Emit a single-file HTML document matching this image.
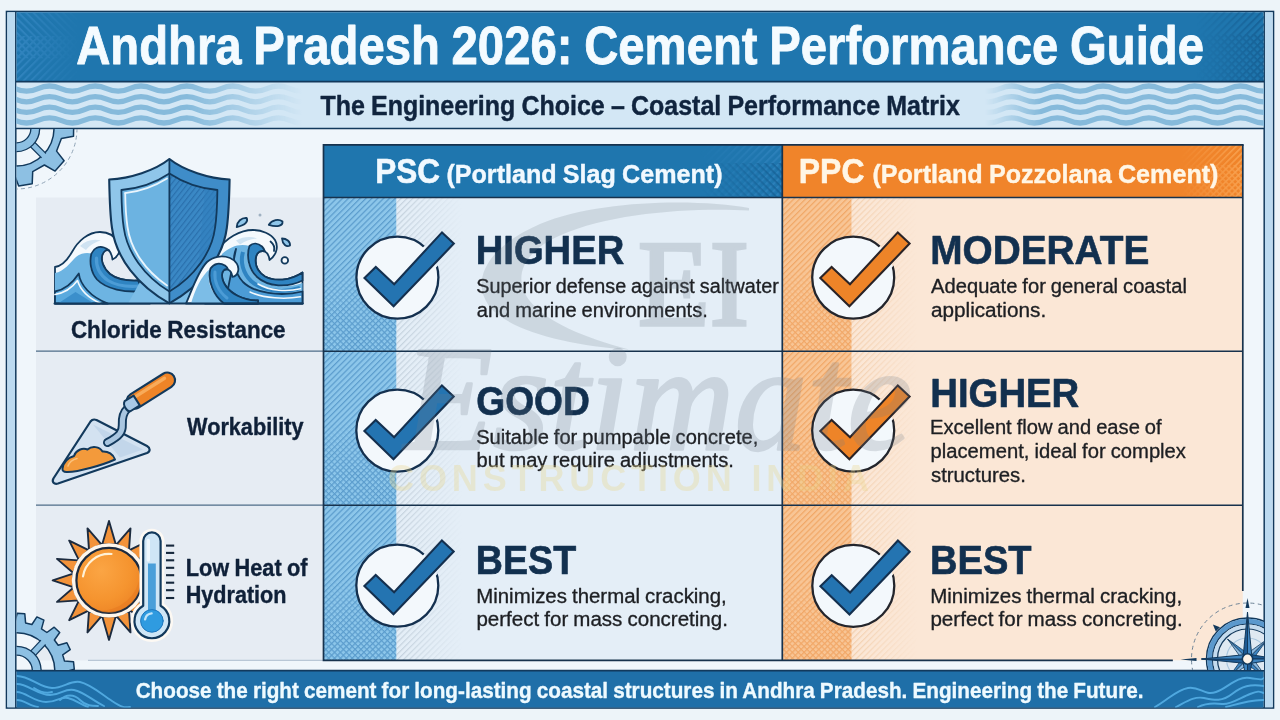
<!DOCTYPE html>
<html lang="en"><head><meta charset="utf-8">
<title>Andhra Pradesh 2026: Cement Performance Guide</title>
<style>html,body{margin:0;padding:0;background:#edf4f9;overflow:hidden}svg{display:block}text{font-family:"Liberation Sans",sans-serif}.b{font-weight:bold}.wm{font-family:"Liberation Serif",serif}</style></head><body>
<svg width="1280" height="720" viewBox="0 0 1280 720">
<defs>
<pattern id="pB" width="4.15" height="4.15" patternUnits="userSpaceOnUse" patternTransform="rotate(-45)"><rect width="4.15" height="1.25" fill="#5c9dcd"/></pattern>
<pattern id="pBx" width="4.15" height="4.15" patternUnits="userSpaceOnUse" patternTransform="rotate(45)"><rect width="4.15" height="1.15" fill="#5c9dcd"/></pattern>
<pattern id="pO" width="4.15" height="4.15" patternUnits="userSpaceOnUse" patternTransform="rotate(-45)"><rect width="4.15" height="1.25" fill="#f1a868"/></pattern>
<pattern id="pOx" width="4.15" height="4.15" patternUnits="userSpaceOnUse" patternTransform="rotate(45)"><rect width="4.15" height="1.15" fill="#f1a868"/></pattern>
<pattern id="pG" width="4.15" height="4.15" patternUnits="userSpaceOnUse" patternTransform="rotate(-45)"><rect width="4.15" height="1.2" fill="#c3d0dc"/></pattern>
<pattern id="pGo" width="4.15" height="4.15" patternUnits="userSpaceOnUse" patternTransform="rotate(-45)"><rect width="4.15" height="1.2" fill="#f3cfae"/></pattern>
<pattern id="pT" width="5.2" height="5.2" patternUnits="userSpaceOnUse" patternTransform="rotate(-45)"><rect width="5.2" height="2" fill="#3a8bc6"/></pattern>
<pattern id="pTx" width="5.2" height="5.2" patternUnits="userSpaceOnUse" patternTransform="rotate(45)"><rect width="5.2" height="2" fill="#3a8bc6"/></pattern>
<pattern id="pTo" width="4.4" height="4.4" patternUnits="userSpaceOnUse" patternTransform="rotate(-45)"><rect width="4.4" height="1.6" fill="#fbab5c"/></pattern>
<pattern id="pTox" width="4.4" height="4.4" patternUnits="userSpaceOnUse" patternTransform="rotate(45)"><rect width="4.4" height="1.6" fill="#fbab5c"/></pattern>
<pattern id="pTd" width="5.2" height="5.2" patternUnits="userSpaceOnUse" patternTransform="rotate(-45)"><rect width="5.2" height="2" fill="#155d91"/></pattern>
<pattern id="pTdx" width="5.2" height="5.2" patternUnits="userSpaceOnUse" patternTransform="rotate(45)"><rect width="5.2" height="2" fill="#155d91"/></pattern>
<linearGradient id="gR" x1="0" x2="1" y1="0" y2="0"><stop offset="0" stop-color="#fff"/><stop offset="1" stop-color="#000"/></linearGradient>
<linearGradient id="gL" x1="0" x2="1" y1="0" y2="0"><stop offset="0" stop-color="#000"/><stop offset="1" stop-color="#fff"/></linearGradient>
<linearGradient id="gWl" x1="0" x2="1" y1="0" y2="0"><stop offset="0" stop-color="#fff"/><stop offset="0.58" stop-color="#fff"/><stop offset="0.97" stop-color="#000"/></linearGradient>
<linearGradient id="gWr" x1="0" x2="1" y1="0" y2="0"><stop offset="0" stop-color="#000"/><stop offset="0.2" stop-color="#fff"/><stop offset="1" stop-color="#fff"/></linearGradient>
<mask id="mWl" maskUnits="userSpaceOnUse" x="16" y="82" width="300" height="46"><rect x="16" y="82" width="295" height="46" fill="url(#gWl)"/></mask>
<mask id="mWr" maskUnits="userSpaceOnUse" x="980" y="82" width="290" height="46"><rect x="985" y="82" width="279" height="46" fill="url(#gWr)"/></mask>
<mask id="mFB" maskUnits="userSpaceOnUse" x="396" y="197" width="70" height="464"><rect x="396" y="197" width="66" height="464" fill="url(#gR)"/></mask>
<mask id="mFO" maskUnits="userSpaceOnUse" x="851" y="197" width="70" height="464"><rect x="851" y="197" width="66" height="464" fill="url(#gR)"/></mask>
<linearGradient id="gV" x1="0" x2="0" y1="0" y2="1"><stop offset="0" stop-color="#000"/><stop offset="0.45" stop-color="#000"/><stop offset="0.8" stop-color="#fff"/><stop offset="1" stop-color="#fff"/></linearGradient>
<mask id="mV0" maskUnits="userSpaceOnUse" x="300" y="197.6" width="700" height="153.6"><rect x="300" y="197.6" width="700" height="153.6" fill="url(#gV)"/></mask>
<mask id="mV1" maskUnits="userSpaceOnUse" x="300" y="351.2" width="700" height="154"><rect x="300" y="351.2" width="700" height="154" fill="url(#gV)"/></mask>
<mask id="mV2" maskUnits="userSpaceOnUse" x="300" y="505.2" width="700" height="155.1"><rect x="300" y="505.2" width="700" height="155.1" fill="url(#gV)"/></mask>
<mask id="mTl" maskUnits="userSpaceOnUse" x="16" y="12" width="70" height="70"><rect x="16" y="12" width="64" height="70" fill="url(#gR)"/></mask>
<mask id="mTr" maskUnits="userSpaceOnUse" x="1190" y="12" width="80" height="70"><rect x="1196" y="12" width="68" height="70" fill="url(#gL)"/></mask>
<mask id="mHB" maskUnits="userSpaceOnUse" x="690" y="144" width="95" height="55"><rect x="700" y="144" width="83" height="55" fill="url(#gL)"/></mask>
<mask id="mHO" maskUnits="userSpaceOnUse" x="1170" y="144" width="75" height="55"><rect x="1180" y="144" width="63" height="55" fill="url(#gL)"/></mask>
<clipPath id="cContent"><rect x="16.5" y="129" width="1247.5" height="541"/></clipPath>
<clipPath id="cFoot"><rect x="16.5" y="671.4" width="1247.5" height="36"/></clipPath>
<pattern id="pSh" width="4.2" height="4.2" patternUnits="userSpaceOnUse" patternTransform="rotate(-52)"><rect width="4.2" height="1.2" fill="#2a70ad"/></pattern>
<radialGradient id="gSun" cx="0.38" cy="0.35" r="0.75"><stop offset="0" stop-color="#fba544"/><stop offset="0.6" stop-color="#f5942f"/><stop offset="1" stop-color="#ec8224"/></radialGradient>
</defs>
<rect x="0" y="0" width="1280" height="720" fill="#edf4f9"/>
<rect x="6.5" y="11.5" width="1267" height="696.5" fill="#f0f6fb" stroke="#12395c" stroke-width="1.6"/>
<rect x="7.3" y="12.3" width="8.2" height="695" fill="#bcdaf0"/>
<rect x="1264.5" y="12.3" width="8.2" height="695" fill="#bcdaf0"/>
<line x1="15.8" y1="12" x2="15.8" y2="708" stroke="#12395c" stroke-width="1.5"/>
<line x1="1264.2" y1="12" x2="1264.2" y2="708" stroke="#12395c" stroke-width="1.5"/>
<rect x="16.5" y="12.3" width="1247" height="69" fill="#1f76ae"/>
<rect x="16.5" y="82" width="1247" height="46" fill="#d3e7f5"/>
<g mask="url(#mTl)" opacity="0.7"><rect x="16.5" y="12.3" width="64" height="46" fill="url(#pTx)"/><rect x="16.5" y="36" width="64" height="45" fill="url(#pT)"/></g>
<g mask="url(#mTr)" opacity="0.8"><rect x="1196" y="12.3" width="68" height="69" fill="url(#pTd)"/><rect x="1196" y="34" width="68" height="47" fill="url(#pTdx)" opacity="0.9"/></g>
<g mask="url(#mWl)" fill="none" stroke="#86badb" stroke-width="5.3"><path d="M-7.8 88.6 q11.4 -5.2 22.9 0 t22.9 0 t22.9 0 t22.9 0 t22.9 0 t22.9 0 t22.9 0 t22.9 0 t22.9 0 t22.9 0 t22.9 0 t22.9 0 t22.9 0 t22.9 0"/><path d="M-7.8 99.2 q11.4 -5.2 22.9 0 t22.9 0 t22.9 0 t22.9 0 t22.9 0 t22.9 0 t22.9 0 t22.9 0 t22.9 0 t22.9 0 t22.9 0 t22.9 0 t22.9 0 t22.9 0"/><path d="M-7.8 109.8 q11.4 -5.2 22.9 0 t22.9 0 t22.9 0 t22.9 0 t22.9 0 t22.9 0 t22.9 0 t22.9 0 t22.9 0 t22.9 0 t22.9 0 t22.9 0 t22.9 0 t22.9 0"/><path d="M-7.8 120.4 q11.4 -5.2 22.9 0 t22.9 0 t22.9 0 t22.9 0 t22.9 0 t22.9 0 t22.9 0 t22.9 0 t22.9 0 t22.9 0 t22.9 0 t22.9 0 t22.9 0 t22.9 0"/></g>
<g mask="url(#mWr)" fill="none" stroke="#86badb" stroke-width="5.3"><path d="M954.2 88.6 q11.4 -5.2 22.9 0 t22.9 0 t22.9 0 t22.9 0 t22.9 0 t22.9 0 t22.9 0 t22.9 0 t22.9 0 t22.9 0 t22.9 0 t22.9 0 t22.9 0 t22.9 0"/><path d="M954.2 99.2 q11.4 -5.2 22.9 0 t22.9 0 t22.9 0 t22.9 0 t22.9 0 t22.9 0 t22.9 0 t22.9 0 t22.9 0 t22.9 0 t22.9 0 t22.9 0 t22.9 0 t22.9 0"/><path d="M954.2 109.8 q11.4 -5.2 22.9 0 t22.9 0 t22.9 0 t22.9 0 t22.9 0 t22.9 0 t22.9 0 t22.9 0 t22.9 0 t22.9 0 t22.9 0 t22.9 0 t22.9 0 t22.9 0"/><path d="M954.2 120.4 q11.4 -5.2 22.9 0 t22.9 0 t22.9 0 t22.9 0 t22.9 0 t22.9 0 t22.9 0 t22.9 0 t22.9 0 t22.9 0 t22.9 0 t22.9 0 t22.9 0 t22.9 0"/></g>
<line x1="16" y1="81.6" x2="1264" y2="81.6" stroke="#12395c" stroke-width="1.6"/>
<line x1="16" y1="128.4" x2="1264" y2="128.4" stroke="#12395c" stroke-width="1.5"/>
<rect x="36" y="197.5" width="287" height="463" fill="#e6ecf3"/>
<rect x="323.5" y="197.6" width="458.8" height="462.7" fill="#e4eef7"/>
<rect x="782.3" y="197.6" width="460.5" height="462.7" fill="#fbe7d6"/>
<rect x="323.5" y="197.6" width="72.8" height="462.7" fill="#8cc6ea"/>
<rect x="782.3" y="197.6" width="69.2" height="462.7" fill="#f8c595"/>
<rect x="323.5" y="197.6" width="72.8" height="462.7" fill="url(#pB)"/>
<rect x="782.3" y="197.6" width="69.2" height="462.7" fill="url(#pO)"/>
<g mask="url(#mV0)"><rect x="323.5" y="197.6" width="72.8" height="153.6" fill="url(#pBx)"/><rect x="782.3" y="197.6" width="69.2" height="153.6" fill="url(#pOx)"/></g>
<g mask="url(#mV1)"><rect x="323.5" y="351.2" width="72.8" height="154" fill="url(#pBx)"/><rect x="782.3" y="351.2" width="69.2" height="154" fill="url(#pOx)"/></g>
<g mask="url(#mV2)"><rect x="323.5" y="505.2" width="72.8" height="155.1" fill="url(#pBx)"/><rect x="782.3" y="505.2" width="69.2" height="155.1" fill="url(#pOx)"/></g>
<g mask="url(#mFB)"><rect x="396.3" y="197.6" width="66" height="462.7" fill="url(#pG)"/></g>
<g mask="url(#mFO)"><rect x="851.5" y="197.6" width="66" height="462.7" fill="url(#pGo)"/></g>
<rect x="323.5" y="144.8" width="458.8" height="52.8" fill="#1f76ae"/>
<rect x="782.3" y="144.8" width="460.5" height="52.8" fill="#f0842a"/>
<g mask="url(#mHB)" opacity="0.55"><rect x="700" y="144.8" width="82.3" height="52.8" fill="url(#pT)"/></g><g mask="url(#mHB)" opacity="0.7"><rect x="700" y="163" width="82.3" height="34.6" fill="url(#pTdx)"/></g>
<g mask="url(#mHO)" opacity="0.8"><rect x="1180" y="144.8" width="62.8" height="52.8" fill="url(#pTo)"/><rect x="1180" y="165" width="62.8" height="32.6" fill="url(#pTox)" opacity="0.8"/></g>
<line x1="36" y1="351.2" x2="323.5" y2="351.2" stroke="#4e6c88" stroke-width="1.3" />
<line x1="323.5" y1="351.2" x2="1242.8" y2="351.2" stroke="#17324d" stroke-width="1.5" />
<line x1="36" y1="505.2" x2="323.5" y2="505.2" stroke="#4e6c88" stroke-width="1.3" />
<line x1="323.5" y1="505.2" x2="1242.8" y2="505.2" stroke="#17324d" stroke-width="1.5" />
<line x1="323.5" y1="197.6" x2="1242.8" y2="197.6" stroke="#17324d" stroke-width="1.5" />
<line x1="88" y1="660.3" x2="323.5" y2="660.3" stroke="#b9c7d6" stroke-width="1.2" />
<path d="M1172 660.3 V660.3 H323.5 V144.8 M323.5 144.8 H1242.8" fill="none" stroke="#17324d" stroke-width="1.7" stroke-linecap="square"/>
<path d="M1242.8 144.8 V591" fill="none" stroke="#17324d" stroke-width="1.7"/>
<line x1="782.3" y1="144.8" x2="782.3" y2="660.3" stroke="#17324d" stroke-width="1.7" />
<rect x="16.5" y="670.5" width="1247" height="37" fill="#1f6fa8"/>
<line x1="16" y1="670.6" x2="1264" y2="670.6" stroke="#12395c" stroke-width="1.7"/>
<g clip-path="url(#cFoot)" fill="none" stroke="#4fa8df" stroke-width="1.9" stroke-linecap="round">
<path d="M17 676 C 30 676, 40 688, 52 688 S 70 680, 80 682 S 100 693, 112 701 S 125 707, 130 707"/>
<path d="M17 684 C 28 684, 38 695, 50 695 S 64 688, 74 690 S 92 700, 104 706"/>
<path d="M17 692 C 26 692, 34 702, 46 702 S 60 696, 68 698 S 80 704, 88 707"/>
<path d="M17 700 C 24 700, 30 706, 38 707"/>
<path d="M60 700 C 66 694, 74 694, 80 700 S 92 706, 98 706"/>
<path d="M34 688 C 40 692, 46 694, 52 692"/>
<path d="M1155 707 C 1168 700, 1176 690, 1188 688 S 1204 696, 1216 692 S 1236 676, 1250 678 S 1260 680, 1264 678"/>
<path d="M1176 707 C 1186 702, 1194 696, 1204 698 S 1222 702, 1232 694 S 1250 684, 1264 686"/>
<path d="M1198 707 C 1206 703, 1214 703, 1222 704 S 1240 698, 1250 694 S 1260 692, 1264 693"/>
<path d="M1226 707 C 1234 705, 1244 702, 1252 701 S 1260 700, 1264 700"/>
</g>
<g clip-path="url(#cContent)">
<circle cx="16.5" cy="128.5" r="60.5" fill="none" stroke="#8fa3b5" stroke-width="1" stroke-dasharray="4 3.2"/>
<path d="M61.7 120.0 L73.7 122.7 L73.5 136.3 L61.4 138.5 L56.6 151.1 L64.1 160.8 L55.1 171.1 L44.4 165.0 L32.7 171.6 L32.2 183.8 L18.7 186.0 L14.4 174.5 L1.2 171.9 L-7.1 180.9 L-18.7 173.9 L-14.6 162.4 L-23.1 151.9 L-35.3 153.5 L-39.7 140.7 L-29.1 134.4 L-28.9 121.0 L-39.2 114.4 L-34.4 101.7 L-22.3 103.7 L-13.4 93.6 L-17.1 81.9 L-5.2 75.3 L2.7 84.6 L16.0 82.5 L20.7 71.2 L34.1 73.8 L34.2 86.0 L45.7 93.0 L56.6 87.3 L65.2 97.9 L57.3 107.3Z M-21.0 128.5 a37.5 37.5 0 1 0 75.0 0 a37.5 37.5 0 1 0 -75.0 0Z" fill="#8dc0e3" fill-rule="evenodd" stroke="#12395c" stroke-width="1.5" stroke-linejoin="round"/>
<line x1="31.7" y1="143.7" x2="43.7" y2="155.7" stroke="#12395c" stroke-width="7.4"/>
<line x1="30.3" y1="142.3" x2="45.1" y2="157.1" stroke="#8dc0e3" stroke-width="5"/>
<circle cx="16.5" cy="128.5" r="18.75" fill="none" stroke="#12395c" stroke-width="10.1"/>
<circle cx="16.5" cy="128.5" r="18.75" fill="none" stroke="#8dc0e3" stroke-width="7.5"/>
</g>
<g clip-path="url(#cContent)">
<path d="M64.5 661.1 L73.5 661.7 L74.3 669.3 L65.5 671.6 L65.0 678.1 L73.3 681.7 L71.4 689.1 L62.3 688.3 L59.6 694.2 L66.2 700.5 L61.9 706.8 L53.6 703.0 L49.1 707.6 L53.1 715.7 L46.9 720.2 L40.5 713.7 L34.6 716.5 L35.6 725.6 L28.2 727.6 L24.4 719.4 L18.0 720.0 L15.8 728.8 L8.2 728.2 L7.4 719.1 L1.1 717.5 L-3.9 725.1 L-10.9 721.9 L-8.5 713.1 L-13.9 709.5 L-21.2 714.8 L-26.7 709.5 L-21.4 702.0 L-25.2 696.7 L-33.9 699.3 L-37.2 692.4 L-29.7 687.2 L-31.5 680.9 L-40.5 680.3 L-41.3 672.7 L-32.5 670.4 L-32.0 663.9 L-40.3 660.3 L-38.4 652.9 L-29.3 653.7 L-26.6 647.8 L-33.2 641.5 L-28.9 635.2 L-20.6 639.0 L-16.1 634.4 L-20.1 626.3 L-13.9 621.8 L-7.5 628.3 L-1.6 625.5 L-2.6 616.4 L4.8 614.4 L8.6 622.6 L15.0 622.0 L17.2 613.2 L24.8 613.8 L25.6 622.9 L31.9 624.5 L36.9 616.9 L43.9 620.1 L41.5 628.9 L46.9 632.5 L54.2 627.2 L59.7 632.5 L54.4 640.0 L58.2 645.3 L66.9 642.7 L70.2 649.6 L62.7 654.8Z M-21.8 671.0 a38.3 38.3 0 1 0 76.6 0 a38.3 38.3 0 1 0 -76.6 0Z" fill="#8dc0e3" fill-rule="evenodd" stroke="#12395c" stroke-width="1.5" stroke-linejoin="round"/>
<line x1="32.2" y1="654.2" x2="43.3" y2="642.3" stroke="#12395c" stroke-width="7.6"/>
<line x1="30.8" y1="655.6" x2="44.7" y2="640.8" stroke="#8dc0e3" stroke-width="5.2"/>
<circle cx="16.5" cy="671" r="20.25" fill="none" stroke="#12395c" stroke-width="10.1"/>
<circle cx="16.5" cy="671" r="20.25" fill="none" stroke="#8dc0e3" stroke-width="7.5"/>
</g>
<g clip-path="url(#cContent)">
<circle cx="1247.5" cy="659" r="56" fill="none" stroke="#6d8396" stroke-width="1" stroke-dasharray="4 3.4"/>
<circle cx="1247.5" cy="659" r="41" fill="#dfe9f2" stroke="#12395c" stroke-width="1.5"/>
<circle cx="1247.5" cy="659" r="37.8" fill="none" stroke="#5b99cd" stroke-width="5"/>
<circle cx="1247.5" cy="659" r="35" fill="none" stroke="#12395c" stroke-width="1.2"/>
<circle cx="1247.5" cy="659" r="32.4" fill="none" stroke="#c4dbee" stroke-width="4"/>
<circle cx="1247.5" cy="659" r="30" fill="none" stroke="#12395c" stroke-width="1.2"/>
<circle cx="1247.5" cy="659" r="21" fill="none" stroke="#a9c6de" stroke-width="1.2"/>
<path d="M1212.9 624.4 L1215.8 631.5 L1220.0 627.3 Z" fill="#12395c"/>
<path d="M1267.3 678.8 L1244.2 662.3 L1247.5 659.0 Z" fill="#3f86c2" stroke="#12395c" stroke-width="0.8" stroke-linejoin="round"/>
<path d="M1267.3 678.8 L1250.8 655.7 L1247.5 659.0 Z" fill="#8db9de" stroke="#12395c" stroke-width="0.8" stroke-linejoin="round"/>
<path d="M1227.7 678.8 L1244.2 655.7 L1247.5 659.0 Z" fill="#3f86c2" stroke="#12395c" stroke-width="0.8" stroke-linejoin="round"/>
<path d="M1227.7 678.8 L1250.8 662.3 L1247.5 659.0 Z" fill="#8db9de" stroke="#12395c" stroke-width="0.8" stroke-linejoin="round"/>
<path d="M1227.7 639.2 L1250.8 655.7 L1247.5 659.0 Z" fill="#3f86c2" stroke="#12395c" stroke-width="0.8" stroke-linejoin="round"/>
<path d="M1227.7 639.2 L1244.2 662.3 L1247.5 659.0 Z" fill="#8db9de" stroke="#12395c" stroke-width="0.8" stroke-linejoin="round"/>
<path d="M1267.3 639.2 L1250.8 662.3 L1247.5 659.0 Z" fill="#3f86c2" stroke="#12395c" stroke-width="0.8" stroke-linejoin="round"/>
<path d="M1267.3 639.2 L1244.2 655.7 L1247.5 659.0 Z" fill="#8db9de" stroke="#12395c" stroke-width="0.8" stroke-linejoin="round"/>
<path d="M1247.5 612.0 L1243.3 654.8 L1247.5 659.0 Z" fill="#1d5a93" stroke="#12395c" stroke-width="1" stroke-linejoin="round"/>
<path d="M1247.5 612.0 L1251.7 654.8 L1247.5 659.0 Z" fill="#3f86c2" stroke="#12395c" stroke-width="1" stroke-linejoin="round"/>
<path d="M1201.5 659.0 L1243.3 663.2 L1247.5 659.0 Z" fill="#1d5a93" stroke="#12395c" stroke-width="1" stroke-linejoin="round"/>
<path d="M1201.5 659.0 L1243.3 654.8 L1247.5 659.0 Z" fill="#3f86c2" stroke="#12395c" stroke-width="1" stroke-linejoin="round"/>
<path d="M1277.5 659.0 L1251.7 654.8 L1247.5 659.0 Z" fill="#1d5a93" stroke="#12395c" stroke-width="1" stroke-linejoin="round"/>
<path d="M1277.5 659.0 L1251.7 663.2 L1247.5 659.0 Z" fill="#3f86c2" stroke="#12395c" stroke-width="1" stroke-linejoin="round"/>
<path d="M1247.5 689.0 L1251.7 663.2 L1247.5 659.0 Z" fill="#1d5a93" stroke="#12395c" stroke-width="1" stroke-linejoin="round"/>
<path d="M1247.5 689.0 L1243.3 663.2 L1247.5 659.0 Z" fill="#3f86c2" stroke="#12395c" stroke-width="1" stroke-linejoin="round"/>
<path d="M1247.5 598.0 l-2 10 l4 0 Z" fill="#12395c"/>
<path d="M1180.5 659.5 l16 -1.6 l0 3.2 Z" fill="#12395c"/>
<circle cx="1247.5" cy="659" r="5.2" fill="#fdf3e7" stroke="#12395c" stroke-width="1.6"/>
</g>
<mask id="mk0" maskUnits="userSpaceOnUse" x="342.4" y="222.6" width="130" height="110"><rect x="342.4" y="222.6" width="130" height="110" fill="#fff"/><polygon points="364.5,278.1 375.8,267.0 394.2,284.2 442.0,232.4 453.8,243.6 393.6,306.2" fill="#000" stroke="#000" stroke-width="7.5" stroke-linejoin="miter"/></mask>
<circle cx="397.4" cy="277.6" r="41" fill="#f3f8fc"/>
<circle cx="397.4" cy="277.6" r="41" fill="none" stroke="#14304f" stroke-width="2.3" mask="url(#mk0)"/>
<polygon points="364.5,278.1 375.8,267.0 394.2,284.2 442.0,232.4 453.8,243.6 393.6,306.2" fill="#2474b1" stroke="#14304f" stroke-width="2.1" stroke-linejoin="miter"/>
<mask id="mk1" maskUnits="userSpaceOnUse" x="342.3" y="375.6" width="130" height="110"><rect x="342.3" y="375.6" width="130" height="110" fill="#fff"/><polygon points="364.4,431.1 375.7,420.0 394.1,437.2 441.9,385.4 453.7,396.6 393.5,459.2" fill="#000" stroke="#000" stroke-width="7.5" stroke-linejoin="miter"/></mask>
<circle cx="397.3" cy="430.6" r="41" fill="#f3f8fc"/>
<circle cx="397.3" cy="430.6" r="41" fill="none" stroke="#14304f" stroke-width="2.3" mask="url(#mk1)"/>
<polygon points="364.4,431.1 375.7,420.0 394.1,437.2 441.9,385.4 453.7,396.6 393.5,459.2" fill="#2474b1" stroke="#14304f" stroke-width="2.1" stroke-linejoin="miter"/>
<mask id="mk2" maskUnits="userSpaceOnUse" x="342.3" y="530.6" width="130" height="110"><rect x="342.3" y="530.6" width="130" height="110" fill="#fff"/><polygon points="364.4,586.1 375.7,575.0 394.1,592.2 441.9,540.4 453.7,551.6 393.5,614.2" fill="#000" stroke="#000" stroke-width="7.5" stroke-linejoin="miter"/></mask>
<circle cx="397.3" cy="585.6" r="41" fill="#f3f8fc"/>
<circle cx="397.3" cy="585.6" r="41" fill="none" stroke="#14304f" stroke-width="2.3" mask="url(#mk2)"/>
<polygon points="364.4,586.1 375.7,575.0 394.1,592.2 441.9,540.4 453.7,551.6 393.5,614.2" fill="#2474b1" stroke="#14304f" stroke-width="2.1" stroke-linejoin="miter"/>
<mask id="mk3" maskUnits="userSpaceOnUse" x="798.2" y="222.6" width="130" height="110"><rect x="798.2" y="222.6" width="130" height="110" fill="#fff"/><polygon points="820.3,278.1 831.6,267.0 850.0,284.2 897.8,232.4 909.6,243.6 849.4,306.2" fill="#000" stroke="#000" stroke-width="7.5" stroke-linejoin="miter"/></mask>
<circle cx="853.2" cy="277.6" r="41" fill="#f3f8fc"/>
<circle cx="853.2" cy="277.6" r="41" fill="none" stroke="#23252c" stroke-width="2.3" mask="url(#mk3)"/>
<polygon points="820.3,278.1 831.6,267.0 850.0,284.2 897.8,232.4 909.6,243.6 849.4,306.2" fill="#ee8428" stroke="#2a2326" stroke-width="2.1" stroke-linejoin="miter"/>
<mask id="mk4" maskUnits="userSpaceOnUse" x="798.2" y="375.6" width="130" height="110"><rect x="798.2" y="375.6" width="130" height="110" fill="#fff"/><polygon points="820.3,431.1 831.6,420.0 850.0,437.2 897.8,385.4 909.6,396.6 849.4,459.2" fill="#000" stroke="#000" stroke-width="7.5" stroke-linejoin="miter"/></mask>
<circle cx="853.2" cy="430.6" r="41" fill="#f3f8fc"/>
<circle cx="853.2" cy="430.6" r="41" fill="none" stroke="#23252c" stroke-width="2.3" mask="url(#mk4)"/>
<polygon points="820.3,431.1 831.6,420.0 850.0,437.2 897.8,385.4 909.6,396.6 849.4,459.2" fill="#ee8428" stroke="#2a2326" stroke-width="2.1" stroke-linejoin="miter"/>
<mask id="mk5" maskUnits="userSpaceOnUse" x="798.3" y="530.8" width="130" height="110"><rect x="798.3" y="530.8" width="130" height="110" fill="#fff"/><polygon points="820.4,586.3 831.7,575.2 850.1,592.4 897.9,540.6 909.7,551.8 849.5,614.4" fill="#000" stroke="#000" stroke-width="7.5" stroke-linejoin="miter"/></mask>
<circle cx="853.3" cy="585.8" r="41" fill="#f3f8fc"/>
<circle cx="853.3" cy="585.8" r="41" fill="none" stroke="#23252c" stroke-width="2.3" mask="url(#mk5)"/>
<polygon points="820.4,586.3 831.7,575.2 850.1,592.4 897.9,540.6 909.7,551.8 849.5,614.4" fill="#2474b1" stroke="#14304f" stroke-width="2.1" stroke-linejoin="miter"/>
<g stroke-linejoin="round" stroke-linecap="round">
<path d="M55 267 C62 266 68 259 72 252 C78 241 88 232 100 232 C108 232 115 236 118.5 243 C121 249 119.5 256 112.5 259.5 C112 256 111.5 253 109 250.5 C106.5 249 104 251 102.5 254.5 C100.5 260 103 268 110 274 C117 279.5 127 281 138 280.5 L150 303.5 L55 303.5 Z" fill="#f4f9fd" stroke="#12395c" stroke-width="1.8"/>
<path d="M55 273 C64 271.5 70 263 76 257 C80 253.5 86 252 91.5 253.5 C88 262 90 272 97 280 C105 288 120 292 142 291 L150 303.5 L55 303.5 Z" fill="#6db4e2"/>
<path d="M80 246 C86 240 94 238.5 101 240.5 C96 241.5 90 245 86 250 Z" fill="#cfe3f2"/>
<path d="M91.5 253.5 C94 248 99 246 104 247.5 C107 248.5 108.5 250 109 250.5 C106.5 249 104 251 102.5 254.5 C100.5 260 103 268 110 274 C117 279.5 127 281 138 280.5 L143.5 291 C125 293 106 289 97 279.5 C91 272.5 89 262 91.5 253.5 Z" fill="#2f84c2" stroke="#12395c" stroke-width="1.8"/>
<path d="M96.5 258 C96 267 100 275 108 280.5 C116 285.5 128 287 140 286" fill="none" stroke="#4c9cd6" stroke-width="3.2"/>
<path d="M55 291.5 C63 290 72 284 78.8 273.5 C80 284 90 297 108 303.5 L55 303.5 Z" fill="#5aaade" stroke="#12395c" stroke-width="1.8"/>
<path d="M55 294.5 C64 293 72 288 77.5 280.5 C80 289 88 298 101 303.5" fill="none" stroke="#f4f9fd" stroke-width="1.6"/>
<path d="M58 303.5 L75.5 292 L94 303.5 Z" fill="#3b8fcb"/>
<path d="M218 250 C226 238 240 230 253 230 C262 230 271 234 275 240 C278 245 278 254 269.5 260 C269 256 268 253 265 251.5 C261 250 257 252 256 257 C254.5 265 258 272 265 276.5 C274 281.5 290 281 302.5 272.5 L302.5 303.5 L205 303.5 Z" fill="#f4f9fd" stroke="#12395c" stroke-width="1.8"/>
<path d="M270.5 241.5 C273.5 244 275 247.5 274 251" fill="none" stroke="#12395c" stroke-width="1.8"/>
<path d="M222 254 C230 246.5 240 243 249.5 246 C246 254 247 266 254 275 C262 285 282 290 302.5 283 L302.5 303.5 L205 303.5 Z" fill="#6db4e2"/>
<path d="M236 240.5 C243 236.5 251 236 257 238.5 C251 239 245 241 240 244.5 Z" fill="#cfe3f2"/>
<path d="M249.5 246 C253 242.5 258 243 262 246.5 C263.5 248 264.5 250 265 251.5 C261 250 257 252 256 257 C254.5 265 258 272 265 276.5 C274 281.5 290 281 302.5 272.5 L302.5 280.5 C288 288 268 287 257 277 C249 269.5 246 256 249.5 246 Z" fill="#2f84c2" stroke="#12395c" stroke-width="1.8"/>
<path d="M236 249 C232 258 234 272 243 282 C254 293 280 297 302.5 291.5 L302.5 303.5 L225 303.5 Z" fill="#4c9cd6" stroke="#12395c" stroke-width="1.8"/>
<path d="M243 252 C240 262 243 273 251 281 C262 291 283 293.5 300 288" fill="none" stroke="#2f84c2" stroke-width="4" stroke-linecap="butt"/>
<path d="M258 284 C270 291 287 292 300.5 288.8" fill="none" stroke="#f4f9fd" stroke-width="1.5"/>
<path d="M250 292 C264 298.5 285 299.5 300.5 296.8" fill="none" stroke="#f4f9fd" stroke-width="1.5"/>
<path d="M128 303.5 L140 282 L200 282 L212 303.5 Z" fill="#7cbde7"/>
<clipPath id="cShL"><rect x="100" y="150" width="69.4" height="160"/></clipPath><clipPath id="cShR"><rect x="169.4" y="150" width="70" height="160"/></clipPath>
<clipPath id="cShI"><path d="M169.4 173.6 C156 182.5 138 188.8 121.4 190 C121.6 205 122 217 123.8 228 C127 252 144 276 169.4 291.6 C195 276 212 252 215 228 C216.8 217 217.2 205 217.4 190 C201 188.8 183 182.5 169.4 173.6 Z"/></clipPath>
<path d="M169.4 159 C155 170.5 130 178.5 109.2 179.5 C109.6 200 110 215 112 228 C116 258 138 286 169.4 303.4 C201 286 223 258 226.8 228 C228.6 215 229.2 200 229.6 179.5 C209 178.5 184 170.5 169.4 159 Z" fill="#8fc6ea" clip-path="url(#cShL)"/>
<path d="M169.4 159 C155 170.5 130 178.5 109.2 179.5 C109.6 200 110 215 112 228 C116 258 138 286 169.4 303.4 C201 286 223 258 226.8 228 C228.6 215 229.2 200 229.6 179.5 C209 178.5 184 170.5 169.4 159 Z" fill="#3f8dc9" clip-path="url(#cShR)"/>
<path d="M169.4 173.6 C156 182.5 138 188.8 121.4 190 C121.6 205 122 217 123.8 228 C127 252 144 276 169.4 291.6 C195 276 212 252 215 228 C216.8 217 217.2 205 217.4 190 C201 188.8 183 182.5 169.4 173.6 Z" fill="#6cb3e1" clip-path="url(#cShL)"/>
<g clip-path="url(#cShR)"><path d="M169.4 173.6 C156 182.5 138 188.8 121.4 190 C121.6 205 122 217 123.8 228 C127 252 144 276 169.4 291.6 C195 276 212 252 215 228 C216.8 217 217.2 205 217.4 190 C201 188.8 183 182.5 169.4 173.6 Z" fill="#3a88c5"/><g clip-path="url(#cShI)"><rect x="169" y="170" width="50" height="125" fill="url(#pSh)"/><path d="M205 190 L217.5 190 L217 230 C214 250 206 262 198 270 Z" fill="#2f7dbb" opacity="0.55"/></g></g>
<path d="M169.4 173.6 C156 182.5 138 188.8 121.4 190 C121.6 205 122 217 123.8 228 C127 252 144 276 169.4 291.6 C195 276 212 252 215 228 C216.8 217 217.2 205 217.4 190 C201 188.8 183 182.5 169.4 173.6 Z" fill="none" stroke="#12395c" stroke-width="1.8"/>
<path d="M125.2 193.2 C125.4 206 126 217 127.5 227 C130.5 249 145 270.5 167 285.5" fill="none" stroke="#eaf5fd" stroke-width="1.8"/>
<path d="M125.2 193.2 C140 191.5 155 186 167 178.5" fill="none" stroke="#eaf5fd" stroke-width="1.8"/>
<path d="M169.4 159 C155 170.5 130 178.5 109.2 179.5 C109.6 200 110 215 112 228 C116 258 138 286 169.4 303.4 C201 286 223 258 226.8 228 C228.6 215 229.2 200 229.6 179.5 C209 178.5 184 170.5 169.4 159 Z" fill="none" stroke="#12395c" stroke-width="2.1"/>
<line x1="169.4" y1="159.5" x2="169.4" y2="303" stroke="#12395c" stroke-width="1.8"/>
<path d="M186 303.5 C192 290 198 271 207 262 C213 256.5 222 255 230 258 C236 260.5 239.5 266 238 271.5 C237 275 235 276.5 232.3 276.8 C232 273 231 271 228 269.5 C224.5 268.5 222 271 222 275 C222 283 228 291 238 296 C244 299 250 300.5 258 300.5 L258 303.5 Z" fill="#f4f9fd" stroke="#12395c" stroke-width="1.8"/>
<path d="M191 303.5 C195 290 201 276 210.5 268.5 C207 277 209 289 217 297 L224 303.5 Z" fill="#7cbde7"/>
<path d="M210.5 268.5 C214 263 220 262.5 225 265.5 C227 267 228 268.5 228 269.5 C224.5 268.5 222 271 222 275 C222 283 228 291 238 296 C244 299 250 300.5 258 300.5 L258 303.5 L224 303.5 C214 296 207 281 210.5 268.5 Z" fill="#2f84c2" stroke="#12395c" stroke-width="1.8"/>
<path d="M215 272 C214 281 218 291 227 298" fill="none" stroke="#4c9cd6" stroke-width="3"/>
<line x1="54.5" y1="303.6" x2="302.8" y2="303.6" stroke="#12395c" stroke-width="2"/>
<path d="M236.7 227 C237 221.5 241.5 217.5 246.5 217.8 C248.5 221 246 225 236.7 227 Z" fill="#8fc6ea" stroke="#12395c" stroke-width="1.8"/>
<path d="M268.8 224.8 C272 219.5 279 218.5 282.5 221.5 C283 226 277 227.5 268.8 224.8 Z" fill="#8fc6ea" stroke="#12395c" stroke-width="1.8"/>
<path d="M282 238.5 C286.5 238.5 290.5 241.5 290 245.5 C286.5 247.5 282.5 244.5 282 238.5 Z" fill="#8fc6ea" stroke="#12395c" stroke-width="1.8"/>
<circle cx="284.8" cy="260.4" r="3.3" fill="#f4f9fd" stroke="#12395c" stroke-width="1.8"/>
<circle cx="260" cy="215" r="1.5" fill="#9fb1c1"/>
</g>
<g stroke-linejoin="round" stroke-linecap="round">
<path d="M90.5 421.5 C92 419.5 94 419 96.5 420 L147 446 C150.5 448 150.5 451.5 147 453 L58 483.5 C54 484.6 51.6 482 53.4 478.5 Z" fill="#d3e2f1" stroke="#12395c" stroke-width="2.2"/>
<path d="M93 424.5 L143 449.5 L120 457.5 Z" fill="#c2d6ea"/>
<path d="M62.5 468.5 C63.5 461 69 457.5 74 456 C76 450 82.5 447.5 87.5 449.5 C92 445.5 99.5 446.5 102.5 451.5 C108 451 113.5 454.5 115 459.5 C104 464.5 78 472.5 66.5 472 C63.5 471.8 62.2 470.6 62.5 468.5 Z" fill="#f39a3b" stroke="#12395c" stroke-width="2"/>
<path d="M68 466 C69.5 461.5 73 459.5 77 458.5" fill="none" stroke="#fbc27c" stroke-width="1.6"/>
<path d="M127.5 408.5 C122.5 413 122 419 122.3 425 C122.6 431.5 120 436 107.5 442.5" fill="none" stroke="#12395c" stroke-width="9"/>
<path d="M127.5 408.5 C122.5 413 122 419 122.3 425 C122.6 431.5 120 436 107.5 442.5" fill="none" stroke="#a9c6e0" stroke-width="5.2"/>
<line x1="134.5" y1="401" x2="167.3" y2="380.3" stroke="#12395c" stroke-width="17.6"/>
<line x1="134.5" y1="401" x2="167.3" y2="380.3" stroke="#ee8427" stroke-width="13.4"/>
<line x1="135.5" y1="396.6" x2="164.5" y2="378.3" stroke="#f8ab5a" stroke-width="3.4"/>
<path d="M124.6 401.2 L133.6 395.6 L139.8 405.4 L130.8 411 C127 412.6 122.6 405 124.6 401.2 Z" fill="#a9c9e6" stroke="#12395c" stroke-width="2"/>
</g>
<g stroke-linejoin="round" stroke-linecap="round">
<clipPath id="cRay"><rect x="40" y="510" width="108" height="140"/></clipPath>
<path d="M102.2 544.5 L109.0 520.9 L115.8 544.5 Z M116.4 544.7 L130.5 528.4 L129.0 549.9 Z M129.5 550.2 L148.8 540.6 L139.2 559.9 Z M139.5 560.4 L161.0 558.9 L144.7 573.0 Z M144.9 573.6 L165.3 580.4 L144.9 587.2 Z M144.7 587.8 L161.0 601.9 L139.5 600.4 Z M139.2 600.9 L148.8 620.2 L129.5 610.6 Z M129.0 610.9 L130.5 632.4 L116.4 616.1 Z M115.8 616.3 L109.0 639.9 L102.2 616.3 Z M101.6 616.1 L87.5 632.4 L89.0 610.9 Z M88.5 610.6 L69.2 620.2 L78.8 600.9 Z M78.5 600.4 L57.0 601.9 L73.3 587.8 Z M73.1 587.2 L52.7 580.4 L73.1 573.6 Z M73.3 573.0 L57.0 558.9 L78.5 560.4 Z M78.8 559.9 L69.2 540.6 L88.5 550.2 Z M89.0 549.9 L87.5 528.4 L101.6 544.7 Z" fill="#f3933a" stroke="#1c2b3f" stroke-width="1.9" clip-path="url(#cRay)"/>
<circle cx="109" cy="580.4" r="37.2" fill="#fdf6ec"/>
<circle cx="109" cy="580.4" r="32.6" fill="url(#gSun)" stroke="#1c2b3f" stroke-width="2.2"/>
<path d="M140.3 573.4 A32.6 32.6 0 0 1 97.0 610.6 A40 40 0 0 0 140.3 573.4 Z" fill="#e5781f" opacity="0.55"/>
<path d="M83.0 576.4 A26.5 26.5 0 0 1 111.5 554.0" fill="none" stroke="#fff1d6" stroke-width="2.2"/>
<path d="M143.2 541.1 A8.7 8.7 0 0 1 160.6 541.1 L160.6 605.8 A17.4 17.4 0 1 1 143.2 605.8 Z" fill="#fdf9f3" stroke="#fdf9f3" stroke-width="7.5"/>
<path d="M143.2 541.1 A8.7 8.7 0 0 1 160.6 541.1 L160.6 605.8 A17.4 17.4 0 1 1 143.2 605.8 Z" fill="#cfe6f6" stroke="#12395c" stroke-width="2.2"/>
<path d="M148.3 540.4 L148.3 560.0" stroke="#eef7fd" stroke-width="3.4"/>
<rect x="148.0" y="563.5" width="7.8" height="48" fill="#4a9fd9"/>
<circle cx="151.9" cy="620.9" r="11.3" fill="#2f9be0" stroke="#1f78be" stroke-width="1"/>
<path d="M145.1 619.4 a7 7 0 0 1 6.5 -6" fill="none" stroke="#bfe4fa" stroke-width="2.4"/>
<line x1="166" y1="545.6" x2="174.2" y2="545.6" stroke="#16283c" stroke-width="2.1" stroke-linecap="butt"/>
<line x1="166" y1="552.9" x2="174.2" y2="552.9" stroke="#16283c" stroke-width="2.1" stroke-linecap="butt"/>
<line x1="166" y1="560.3" x2="174.2" y2="560.3" stroke="#16283c" stroke-width="2.1" stroke-linecap="butt"/>
<line x1="166" y1="567.8" x2="174.2" y2="567.8" stroke="#16283c" stroke-width="2.1" stroke-linecap="butt"/>
<line x1="166" y1="575.2" x2="174.2" y2="575.2" stroke="#16283c" stroke-width="2.1" stroke-linecap="butt"/>
<line x1="166" y1="582.7" x2="174.2" y2="582.7" stroke="#16283c" stroke-width="2.1" stroke-linecap="butt"/>
<line x1="166" y1="590.2" x2="174.2" y2="590.2" stroke="#16283c" stroke-width="2.1" stroke-linecap="butt"/>
<line x1="166" y1="598" x2="174.2" y2="598" stroke="#16283c" stroke-width="2.1" stroke-linecap="butt"/>
</g>
<g opacity="0.999">
<text x="76.13" y="64" font-size="53.4" fill="#f4fbff" stroke="#f4fbff" stroke-width="0.85" stroke-linejoin="round" class="b" style="word-spacing:-0.03em" textLength="1127.85" lengthAdjust="spacingAndGlyphs">Andhra Pradesh 2026: Cement Performance Guide</text>
<text x="320.39" y="114.8" font-size="27.2" fill="#10243e" stroke="#10243e" stroke-width="0.44" stroke-linejoin="round" class="b" style="word-spacing:-0.03em" textLength="639.49" lengthAdjust="spacingAndGlyphs">The Engineering Choice – Coastal Performance Matrix</text>
<text x="375.13" y="183.2" font-size="35.4" fill="#f1f9ff" stroke="#f1f9ff" stroke-width="0.57" stroke-linejoin="round" class="b" style="word-spacing:-0.03em" textLength="64.89" lengthAdjust="spacingAndGlyphs">PSC</text>
<text x="446.42" y="182.6" font-size="26.4" fill="#f1f9ff" stroke="#f1f9ff" stroke-width="0.42" stroke-linejoin="round" class="b" style="word-spacing:-0.03em" textLength="276.17" lengthAdjust="spacingAndGlyphs">(Portland Slag Cement)</text>
<text x="798.85" y="183.2" font-size="35.4" fill="#fff6e6" stroke="#fff6e6" stroke-width="0.57" stroke-linejoin="round" class="b" style="word-spacing:-0.03em" textLength="65.60" lengthAdjust="spacingAndGlyphs">PPC</text>
<text x="872.42" y="182.6" font-size="26.4" fill="#fff6e6" stroke="#fff6e6" stroke-width="0.42" stroke-linejoin="round" class="b" style="word-spacing:-0.03em" textLength="346.06" lengthAdjust="spacingAndGlyphs">(Portland Pozzolana Cement)</text>
<text x="475.75" y="264.2" font-size="41.4" fill="#12304f" stroke="#12304f" stroke-width="0.66" stroke-linejoin="round" class="b" style="word-spacing:-0.03em" textLength="148.49" lengthAdjust="spacingAndGlyphs">HIGHER</text>
<text x="476.26" y="293" font-size="20" fill="#1d1f23" stroke="#1d1f23" stroke-width="0.34" stroke-linejoin="round" style="word-spacing:-0.03em" textLength="302.62" lengthAdjust="spacingAndGlyphs">Superior defense against saltwater</text>
<text x="476.77" y="316.7" font-size="20" fill="#1d1f23" stroke="#1d1f23" stroke-width="0.34" stroke-linejoin="round" style="word-spacing:-0.03em" textLength="230.99" lengthAdjust="spacingAndGlyphs">and marine environments.</text>
<text x="476.26" y="415.4" font-size="41.4" fill="#12304f" stroke="#12304f" stroke-width="0.66" stroke-linejoin="round" class="b" style="word-spacing:-0.03em" textLength="113.67" lengthAdjust="spacingAndGlyphs">GOOD</text>
<text x="476.20" y="443.6" font-size="20" fill="#1d1f23" stroke="#1d1f23" stroke-width="0.34" stroke-linejoin="round" style="word-spacing:-0.03em" textLength="282.13" lengthAdjust="spacingAndGlyphs">Suitable for pumpable concrete,</text>
<text x="476.55" y="467.4" font-size="20" fill="#1d1f23" stroke="#1d1f23" stroke-width="0.34" stroke-linejoin="round" style="word-spacing:-0.03em" textLength="257.24" lengthAdjust="spacingAndGlyphs">but may require adjustments.</text>
<text x="475.87" y="574.2" font-size="41.4" fill="#12304f" stroke="#12304f" stroke-width="0.66" stroke-linejoin="round" class="b" style="word-spacing:-0.03em" textLength="100.33" lengthAdjust="spacingAndGlyphs">BEST</text>
<text x="476.22" y="602.9" font-size="20" fill="#1d1f23" stroke="#1d1f23" stroke-width="0.34" stroke-linejoin="round" style="word-spacing:-0.03em" textLength="250.52" lengthAdjust="spacingAndGlyphs">Minimizes thermal cracking,</text>
<text x="476.44" y="625.8" font-size="20" fill="#1d1f23" stroke="#1d1f23" stroke-width="0.34" stroke-linejoin="round" style="word-spacing:-0.03em" textLength="251.43" lengthAdjust="spacingAndGlyphs">perfect for mass concreting.</text>
<text x="930.17" y="264.2" font-size="41.4" fill="#12304f" stroke="#12304f" stroke-width="0.66" stroke-linejoin="round" class="b" style="word-spacing:-0.03em" textLength="219.11" lengthAdjust="spacingAndGlyphs">MODERATE</text>
<text x="931.14" y="293" font-size="20" fill="#1d1f23" stroke="#1d1f23" stroke-width="0.34" stroke-linejoin="round" style="word-spacing:-0.03em" textLength="255.77" lengthAdjust="spacingAndGlyphs">Adequate for general coastal</text>
<text x="930.96" y="316.7" font-size="20" fill="#1d1f23" stroke="#1d1f23" stroke-width="0.34" stroke-linejoin="round" style="word-spacing:-0.03em" textLength="115.19" lengthAdjust="spacingAndGlyphs">applications.</text>
<text x="930.28" y="406.7" font-size="41.4" fill="#12304f" stroke="#12304f" stroke-width="0.66" stroke-linejoin="round" class="b" style="word-spacing:-0.03em" textLength="149.02" lengthAdjust="spacingAndGlyphs">HIGHER</text>
<text x="929.98" y="434.2" font-size="20" fill="#1d1f23" stroke="#1d1f23" stroke-width="0.34" stroke-linejoin="round" style="word-spacing:-0.03em" textLength="231.67" lengthAdjust="spacingAndGlyphs">Excellent flow and ease of</text>
<text x="930.55" y="458.4" font-size="20" fill="#1d1f23" stroke="#1d1f23" stroke-width="0.34" stroke-linejoin="round" style="word-spacing:-0.03em" textLength="255.42" lengthAdjust="spacingAndGlyphs">placement, ideal for complex</text>
<text x="930.99" y="482.2" font-size="20" fill="#1d1f23" stroke="#1d1f23" stroke-width="0.34" stroke-linejoin="round" style="word-spacing:-0.03em" textLength="94.90" lengthAdjust="spacingAndGlyphs">structures.</text>
<text x="930.08" y="574.2" font-size="41.4" fill="#12304f" stroke="#12304f" stroke-width="0.66" stroke-linejoin="round" class="b" style="word-spacing:-0.03em" textLength="101.54" lengthAdjust="spacingAndGlyphs">BEST</text>
<text x="930.18" y="602.9" font-size="20" fill="#1d1f23" stroke="#1d1f23" stroke-width="0.34" stroke-linejoin="round" style="word-spacing:-0.03em" textLength="251.95" lengthAdjust="spacingAndGlyphs">Minimizes thermal cracking,</text>
<text x="930.42" y="625.8" font-size="20" fill="#1d1f23" stroke="#1d1f23" stroke-width="0.34" stroke-linejoin="round" style="word-spacing:-0.03em" textLength="252.21" lengthAdjust="spacingAndGlyphs">perfect for mass concreting.</text>
<text x="70.95" y="337.6" font-size="23.8" fill="#0f2038" stroke="#0f2038" stroke-width="0.38" stroke-linejoin="round" class="b" style="word-spacing:-0.03em" textLength="214.64" lengthAdjust="spacingAndGlyphs">Chloride Resistance</text>
<text x="187.11" y="435.3" font-size="23.8" fill="#0f2038" stroke="#0f2038" stroke-width="0.38" stroke-linejoin="round" class="b" style="word-spacing:-0.03em" textLength="116.35" lengthAdjust="spacingAndGlyphs">Workability</text>
<text x="185.68" y="576" font-size="23.8" fill="#0f2038" stroke="#0f2038" stroke-width="0.38" stroke-linejoin="round" class="b" style="word-spacing:-0.03em" textLength="121.94" lengthAdjust="spacingAndGlyphs">Low Heat of</text>
<text x="185.68" y="602.6" font-size="23.8" fill="#0f2038" stroke="#0f2038" stroke-width="0.38" stroke-linejoin="round" class="b" style="word-spacing:-0.03em" textLength="100.83" lengthAdjust="spacingAndGlyphs">Hydration</text>
<text x="135.68" y="698" font-size="21.8" fill="#eefaff" stroke="#eefaff" stroke-width="0.35" stroke-linejoin="round" class="b" style="word-spacing:-0.03em" textLength="1007.81" lengthAdjust="spacingAndGlyphs">Choose the right cement for long-lasting coastal structures in Andhra Pradesh. Engineering the Future.</text>
</g>
<g fill="#6f7b88">
<path d="M749 208 C700 199 600 199 540 224 C494 244 468 276 489 306 C509 331 570 346 629 349.5 C585 338 546 322 529 300 C511 275 526 250 561 235 C611 213 690 207.5 749 210.5 Z" opacity="0.2"/>
<text class="wm" x="638" y="324.5" font-size="122" stroke="#6f7b88" stroke-width="3.5" opacity="0.24" textLength="111" lengthAdjust="spacingAndGlyphs">EI</text>
<text class="wm" x="404" y="449" font-size="150" font-style="italic" stroke="#6f7b88" stroke-width="2.6" stroke-linejoin="round" opacity="0.215" textLength="508" lengthAdjust="spacingAndGlyphs">Estimate</text>
</g>
<text x="388" y="491.3" font-size="36" class="b" fill="#ead68a" opacity="0.33" textLength="481" lengthAdjust="spacing">CONSTRUCTION INDIA</text>
</svg></body></html>
